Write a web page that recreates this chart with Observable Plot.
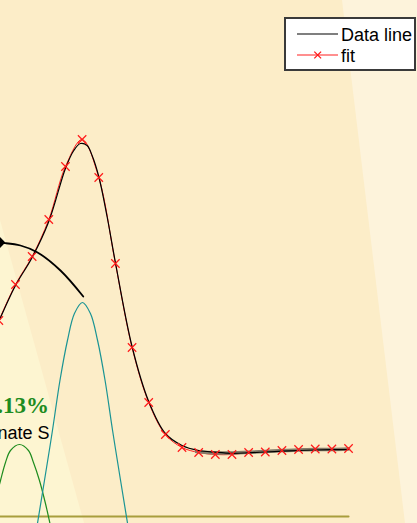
<!DOCTYPE html>
<html><head><meta charset="utf-8">
<script src="https://cdn.jsdelivr.net/npm/d3@7"></script>
<script src="https://cdn.jsdelivr.net/npm/@observablehq/plot@0.6"></script>
<style>
html,body{margin:0;padding:0;background:#FCEDC8;}
#wrap{position:relative;width:417px;height:523px;overflow:hidden;background:#FCEDC8;}
.bg{position:absolute;left:0;top:0;width:417px;height:523px;}
#bgL{background:#FDF5D1;clip-path:polygon(0 220px,84px 523px,0 523px);}
#bgR{background:#FDF3DB;clip-path:polygon(342px 0,417px 0,417px 523px,405px 523px);}
#chart{position:absolute;left:0;top:0;}
#legend{position:absolute;left:284px;top:17px;}
</style></head><body>
<div id="wrap"><div class="bg" id="bgL"></div><div class="bg" id="bgR"></div><div id="chart"></div><div id="legend"></div></div>
<script>
// fit (red, x markers)
const fitX = [0,1,2,3,4,5,6,7,8,9,10,11,12,13,14,15,16,17,18,19,20,21];
const fitY = [196,232,260,297,350,377,339,253,169,114,82,69,64,62,62,64,64.5,66,67,67.5,67.5,68];
// data line (black)
const dataX = [0,1,2,3,4,4.5,4.9,5.3,5.6,6,6.5,7,8,9,10,11,12,13,14,15,16,17,18,19,20,21];
const dataY = [195,231,259,295,348,366,373,371,361,340,300,254,170,115,83,71,66,64.3,63.2,63.7,64.5,65.3,66,66.5,66.8,67];
// grey overlay on the tail
const greyX = [11.87,13.01,14.03,14.99,16.02,17.04,18.0,19.02,19.98,21.0];
const greyY = [65,63.5,63.5,64.2,65,66,66.5,67,67,67.5];
// component peaks
const tealX = [1.96,2.32,2.74,3.22,3.67,4.12,4.54,5.02,5.50,5.93,6.38,6.83,7.31,7.73,8.09];
const tealY = [-44,-7,36,86,136,176,203,214,203,176,136,86,36,-7,-44];
const greenX = [-0.62,0.10,0.40,0.70,1.24,1.78,2.08,2.44,2.80,3.07,3.22];
const greenY = [-10,36,54,66,72,66,54,36,13,-7,-19];
// baseline
const baseX = [-1,21];
const baseY = [0,0];
// annotation arrow
const arrowX = [5.07,3.70,2.30,1.30,0.40,0.10];
const arrowY = [220,246,264.3,271,273.3,273.5];
const headX = [-0.25,0.10,0.42];
const headTop = [273.5,279,273.5];
const headBot = [273.5,268,273.5];
// labels
const pctLabel = [".13%"];
const pctX = [3.01], pctY = [104];
const nameLabel = ["nate S"];
const nameX = [3.04], nameY = [78];
// legend
const legendLabels = ["Data line","fit"];

const zip = (xs, ys) => xs.map((x,i)=>({x, y: ys[i]}));
const fit = zip(fitX, fitY), data = zip(dataX, dataY), grey = zip(greyX, greyY);
const teal = zip(tealX, tealY), green = zip(greenX, greenY), base = zip(baseX, baseY);
const arrow = zip(arrowX, arrowY);
const head = headX.map((x,i)=>({x, y1: headTop[i], y2: headBot[i]}));

const chart = Plot.plot({
  width: 417, height: 523, margin: 0,
  x: {domain: [0.1, 25.14], axis: null},
  y: {domain: [-7, 516], axis: null},
  style: {background: "transparent", overflow: "hidden"},
  marks: [
    Plot.line(base, {x:"x", y:"y", stroke:"#A89E3C", strokeWidth:2, clip:true}),
    Plot.line(green, {x:"x", y:"y", stroke:"#1E8C1E", strokeWidth:1.2, curve:"catmull-rom", clip:true}),
    Plot.line(teal, {x:"x", y:"y", stroke:"#1A9494", strokeWidth:1.2, curve:"catmull-rom", clip:true}),
    Plot.line(fit, {x:"x", y:"y", stroke:"#FF2020", strokeWidth:1, curve:"catmull-rom", clip:true}),
    Plot.line(grey, {x:"x", y:"y", stroke:"#857c6a", strokeWidth:3.5, curve:"catmull-rom", clip:true}),
    Plot.line(data, {x:"x", y:"y", stroke:"black", strokeWidth:1.2, curve:"catmull-rom", clip:true}),
    Plot.dot(fit, {x:"x", y:"y", symbol:"times", r:3.9, stroke:"#FF1A1A", strokeWidth:1.2, clip:true}),
    Plot.line(arrow, {x:"x", y:"y", stroke:"black", strokeWidth:1.8, curve:"catmull-rom", clip:true}),
    Plot.areaY(head, {x:"x", y1:"y1", y2:"y2", fill:"black", clip:true}),
    Plot.text(pctLabel, {x: pctX, y: pctY, text: d=>d, textAnchor:"end", lineAnchor:"bottom",
      fontSize:23, fontWeight:"bold", fontFamily:"Liberation Serif, serif", fill:"#1E8C1E"}),
    Plot.text(nameLabel, {x: nameX, y: nameY, text: d=>d, textAnchor:"end", lineAnchor:"bottom",
      fontSize:18, fontFamily:"Liberation Sans, Arial, sans-serif", fill:"black"})
  ]
});
document.getElementById("chart").append(chart);

// legend
const lg = d3.select("#legend").append("svg").attr("width",132).attr("height",54);
lg.append("rect").attr("x",1).attr("y",1).attr("width",130).attr("height",52)
  .attr("fill","white").attr("stroke","#3a3a3a").attr("stroke-width",2);
lg.append("line").attr("x1",13).attr("x2",54).attr("y1",17).attr("y2",17).attr("stroke","black").attr("stroke-width",1.2);
lg.append("line").attr("x1",13).attr("x2",54).attr("y1",38).attr("y2",38).attr("stroke","#FF2020").attr("stroke-width",1.2);
lg.append("path").attr("d","M30.3,34.6L37.1,41.4M30.3,41.4L37.1,34.6").attr("stroke","#FF1A1A").attr("stroke-width",1.3);
lg.selectAll("text.l").data(legendLabels).join("text")
  .attr("x",57).attr("y",(d,i)=>i===0?24:45)
  .attr("font-family","Liberation Sans, Arial, sans-serif").attr("font-size",18).attr("fill","black")
  .text(d=>d);
</script>
</body></html>
